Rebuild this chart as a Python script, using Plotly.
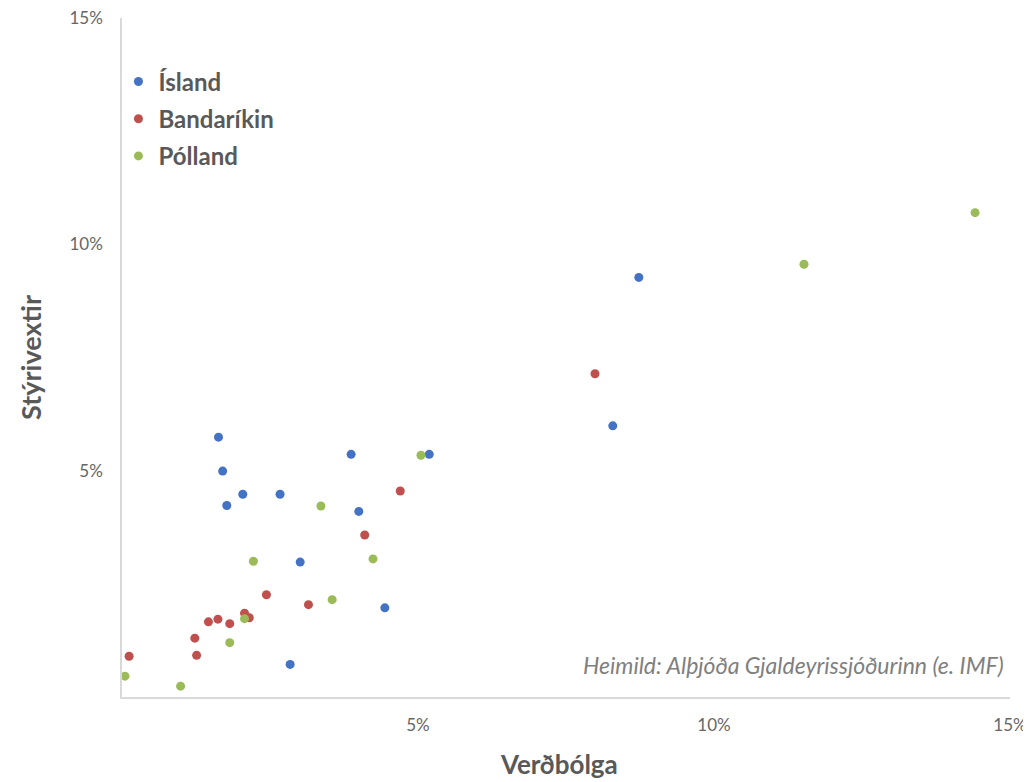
import plotly.graph_objects as go

# Data (inflation %, policy rate %)
island_x = [1.63, 1.70, 2.04, 2.67, 1.77, 3.87, 5.19, 4.00, 3.01, 4.44, 2.84, 8.73, 8.29]
island_y = [5.74, 4.99, 4.48, 4.48, 4.23, 5.36, 5.36, 4.10, 2.98, 1.97, 0.72, 9.27, 5.99]

usa_x = [4.70, 4.10, 2.44, 3.15, 2.07, 2.15, 1.62, 1.46, 1.82, 1.23, 1.26, 0.12, 7.99]
usa_y = [4.55, 3.58, 2.26, 2.04, 1.85, 1.75, 1.72, 1.66, 1.62, 1.30, 0.92, 0.90, 7.14]

poland_x = [5.05, 3.36, 2.22, 4.24, 3.55, 2.07, 1.82, 0.05, 0.99, 11.52, 14.41]
poland_y = [5.34, 4.22, 3.00, 3.05, 2.15, 1.73, 1.20, 0.46, 0.24, 9.56, 10.70]

series_names = ["Ísland", "Bandaríkin", "Pólland"]
tick_vals = [5, 10, 15]
tick_text = ["5%", "10%", "15%"]

colors = ["#4472C4", "#C0504D", "#9BBB59"]
FONT = "Lato, 'Open Sans', sans-serif"

fig = go.Figure()
for name, xs, ys, c in zip(series_names, [island_x, usa_x, poland_x],
                           [island_y, usa_y, poland_y], colors):
    fig.add_trace(go.Scatter(
        x=xs, y=ys, mode="markers", name=name, legendgroup=name,
        marker=dict(color=c, size=9, line=dict(width=0)),
    ))

# page has an 8px body margin, so the figure is sized/offset to compensate
fig.update_layout(
    width=1023, height=774,
    margin=dict(l=114, r=21, t=10, b=85, autoexpand=False),
    paper_bgcolor="white", plot_bgcolor="white",
    font=dict(family=FONT, color="#595959"),
    showlegend=True,
    legend=dict(
        x=-0.004, y=0.939, xanchor="left", yanchor="top",
        font=dict(size=24, color="#595959", family=FONT, weight="bold"),
        itemsizing="trace", tracegroupgap=3,
        bgcolor="rgba(0,0,0,0)",
    ),
    xaxis=dict(
        range=[0, 15], tickvals=tick_vals, ticktext=tick_text,
        showgrid=False, zeroline=False, showline=True, automargin=False,
        linecolor="#D9D9D9", linewidth=1.5, ticks="", ticklen=0,
        tickfont=dict(size=17, color="#666666"),
        ticklabelstandoff=12, ticklabeloverflow="allow",
    ),
    yaxis=dict(
        range=[0, 15], tickvals=tick_vals, ticktext=tick_text,
        showgrid=False, zeroline=False, showline=True, automargin=False,
        linecolor="#D9D9D9", linewidth=1.5, ticks="", ticklen=0,
        tickfont=dict(size=17, color="#666666"),
        ticklabelstandoff=14, ticklabeloverflow="allow",
    ),
    annotations=[
        dict(
            text="<i>Heimild: Alþjóða Gjaldeyrissjóðurinn (e. IMF)</i>",
            xref="paper", yref="paper", x=0.995, y=(697 - 665) / 679,
            xanchor="right", yanchor="middle", showarrow=False,
            font=dict(size=23, color="#7F7F7F", family=FONT),
        ),
        dict(
            text="<b>Verðbólga</b>",
            xref="paper", yref="paper", x=(559 - 122) / 888, y=-(764 - 697) / 679,
            xanchor="center", yanchor="middle", showarrow=False,
            font=dict(size=26, color="#595959", family=FONT),
        ),
        dict(
            text="<b>Stýrivextir</b>",
            xref="paper", yref="paper", x=-(122 - 30) / 888, y=(697 - 358) / 679,
            xanchor="center", yanchor="middle", showarrow=False, textangle=-90,
            font=dict(size=27, color="#595959", family=FONT),
        ),
    ],
)

fig.write_html("out.html")
